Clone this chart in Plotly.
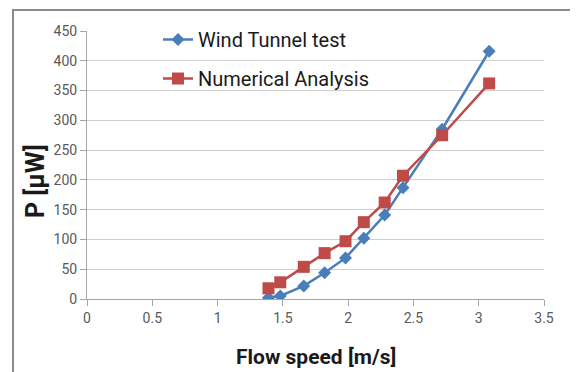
import plotly.graph_objects as go

flow_speed = [1.39, 1.48, 1.66, 1.82, 1.98, 2.12, 2.28, 2.42, 2.72, 3.08]
wind_tunnel = [2, 5, 22, 44, 69, 102, 141, 187, 285, 416]
numerical = [18, 28, 54, 77, 97, 129, 162, 207, 275, 362]

x_ticks = [0, 0.5, 1, 1.5, 2, 2.5, 3, 3.5]
x_tick_labels = ["0", "0.5", "1", "1.5", "2", "2.5", "3", "3.5"]
y_ticks = [0, 50, 100, 150, 200, 250, 300, 350, 400, 450]

FONT = "Roboto, Lato, sans-serif"
OFF = 8  # page body margin
W, H = 578 - OFF, 372 - OFF
L, R, T, B = 87 - OFF, W - (544 - OFF), 31 - OFF, H - (299 - OFF)
PW, PH = W - L - R, H - T - B


def px(sx):
    return (sx - OFF - L) / PW


def py(sy):
    return (H - B - (sy - OFF)) / PH


fig = go.Figure()
fig.add_trace(go.Scatter(
    x=flow_speed, y=wind_tunnel, mode="lines+markers", name="Wind Tunnel test",
    legendgroup="a",
    line=dict(color="#4a7ebb", width=2.5),
    marker=dict(symbol="diamond", size=10, color="#4a7ebb"),
))
fig.add_trace(go.Scatter(
    x=flow_speed, y=numerical, mode="lines+markers", name="Numerical Analysis",
    legendgroup="b",
    line=dict(color="#be4b48", width=2.5),
    marker=dict(symbol="square", size=12, color="#be4b48"),
))

fig.update_layout(
    width=W, height=H,
    margin=dict(l=L, r=R, t=T, b=B),
    paper_bgcolor="white", plot_bgcolor="white",
    font=dict(family=FONT, color="#595959", size=14),
    showlegend=True,
    legend=dict(
        x=px(158), y=py(20),
        xanchor="left", yanchor="top",
        bgcolor="rgba(0,0,0,0)",
        font=dict(family=FONT, size=20, color="#1a1a1a"),
        tracegroupgap=10, itemwidth=30,
    ),
    xaxis=dict(
        range=[0, 3.5], tickvals=x_ticks, ticktext=x_tick_labels,
        showgrid=False, zeroline=False,
        showline=True, linecolor="#a6a6a6", linewidth=1,
        ticks="outside", ticklen=6, tickcolor="#a6a6a6",
        tickfont=dict(size=14, color="#595959"),
    ),
    yaxis=dict(
        range=[0, 450], tickvals=y_ticks,
        showgrid=True, gridcolor="#cfcfcf", gridwidth=1.4,
        zeroline=False,
        showline=True, linecolor="#a6a6a6", linewidth=1,
        ticks="outside", ticklen=6, tickcolor="#a6a6a6",
        tickfont=dict(size=14, color="#595959"),
    ),
    shapes=[dict(
        type="rect", xref="paper", yref="paper",
        x0=px(13), x1=px(590),
        y0=py(390), y1=py(10),
        line=dict(color="#8c8c8c", width=2), layer="below",
    )],
    annotations=[
        dict(text="<b>Flow speed [m/s]</b>", xref="paper", yref="paper",
             x=0.5, y=py(357), showarrow=False,
             xanchor="center", yanchor="middle",
             font=dict(family=FONT, size=21, color="#1a1a1a")),
        dict(text="<b>P [µW]</b>", xref="paper", yref="paper",
             x=px(35), y=py(181),
             showarrow=False, textangle=-90,
             xanchor="center", yanchor="middle",
             font=dict(family=FONT, size=25, color="#1a1a1a")),
    ],
)

fig.write_html("out.html")
